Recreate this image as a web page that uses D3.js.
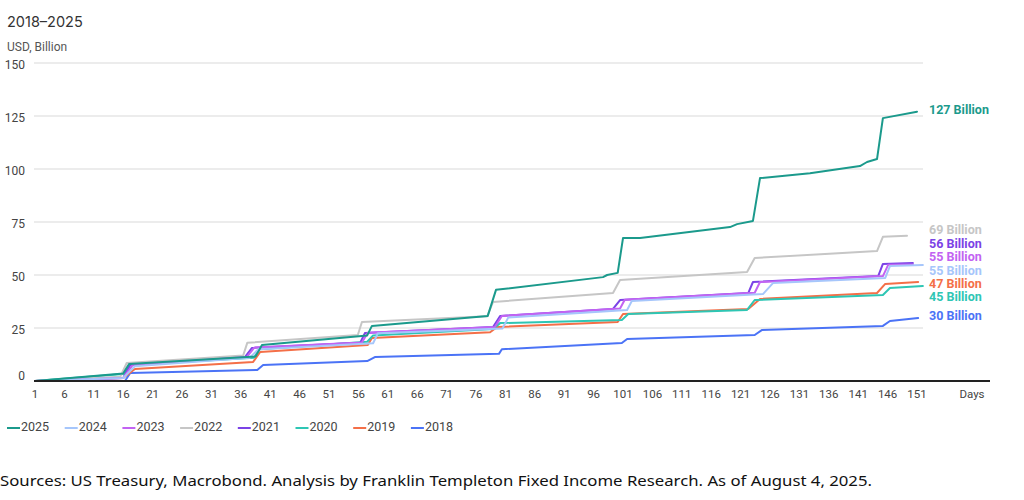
<!DOCTYPE html>
<html>
<head>
<meta charset="utf-8">
<script src="https://cdnjs.cloudflare.com/ajax/libs/d3/7.8.5/d3.min.js"></script>
<style>
  body { margin: 0; background: #fff; }
  svg { display: block; }
  .narrow { font-family: Roboto, "DejaVu Sans Condensed", sans-serif; }
</style>
</head>
<body>
<script>
'use strict';

// ---- data ----
var years = ['2025', '2024', '2023', '2022', '2021', '2020', '2019', '2018'];
var colors = ['#1b9a8c', '#a6c6fb', '#c263f2', '#c6c6c6', '#7b43e6', '#2ec6b4', '#f46f48', '#4b73f6'];
var endLabels = ['127 Billion', '55 Billion', '55 Billion', '69 Billion', '56 Billion', '45 Billion', '47 Billion', '30 Billion'];
var xTicks = [1, 6, 11, 16, 21, 26, 31, 36, 41, 46, 51, 56, 61, 66, 71, 76, 81, 86, 91, 96, 101, 106, 111, 116, 121, 126, 131, 136, 141, 146, 151];
var yTicks = [0, 25, 50, 75, 100, 125, 150];

// [day, USD bn]
var s2025 = [[1, 0], [16, 3.5], [17, 8], [38.5, 11.5], [39.6, 17], [57.5, 21.5], [58.3, 26], [78, 30.7], [79.4, 43],
  [97.6, 49], [98.3, 50], [100.1, 51], [101, 67.4], [103.9, 67.5], [119.2, 72.6], [120.4, 74], [123.1, 75.5],
  [124.3, 95.7], [132.8, 98], [141.3, 101.4], [142.5, 103.3], [144.2, 104.7], [145.2, 124], [151, 127]];
var s2024 = [[1, 0], [16, 1.4], [18, 7], [37.5, 11], [39, 15], [58.5, 17.8], [59.3, 22.5], [80.5, 24.8], [81.5, 30],
  [101.7, 33.5], [102.5, 37.7], [124.8, 41], [126.5, 46.2], [145.6, 48.6], [146.4, 54.2], [152, 54.7]];
var s2023 = [[1, 0], [16, 1.4], [17.6, 7.5], [37, 11.3], [38.3, 15.8], [56.6, 18.2], [57.6, 22.8], [79.2, 25.5], [80.4, 30.7],
  [100.5, 34.2], [101.3, 38.3], [123.4, 41.6], [124.3, 46.7], [145.2, 49.5], [146.1, 54.8], [150.3, 55]];
var s2022 = [[1, 0], [15.5, 2], [16.6, 8.5], [36.4, 12], [37.1, 18], [55.9, 21.7], [56.6, 27.8], [77.9, 30.5], [78.9, 37.3],
  [99.3, 41.5], [100.5, 47.6], [122.1, 51.4], [123.4, 58], [144.2, 61.3], [145.2, 68], [149.3, 68.5]];
var s2021 = [[1, 0], [16, 1.4], [17.2, 7.5], [36.7, 11.3], [37.9, 15.6], [56.3, 18], [57.1, 22.6], [78.9, 25.5], [80.1, 30.7],
  [99.3, 34], [100.5, 38.2], [122.3, 41.5], [123.1, 46.7], [144.4, 49.5], [145.2, 55.2], [150.3, 55.7]];
var s2020 = [[1, 0], [16, 3.3], [17, 7.5], [38.2, 11], [39.2, 15], [57.5, 18.5], [58.5, 21.5], [78.9, 24.5], [80.1, 27.3],
  [100.8, 28.8], [101.9, 31.6], [122.1, 33.5], [123.4, 38.2], [145.2, 40.6], [146.4, 43.9], [152, 44.8]];
var s2019 = [[1, 0], [16, 1.4], [18, 5.7], [38.1, 9], [39.3, 13.7], [57.6, 17], [58.3, 20.3], [78.4, 23], [79.6, 25.5],
  [100.1, 27.8], [101, 31.6], [122.3, 34], [124.3, 38.7], [144.2, 41.5], [145.6, 45.8], [151.2, 46.7]];
var s2018 = [[1, 0], [16.3, 0], [17.2, 3.8], [38.8, 5.2], [39.8, 7.5], [57.5, 9.4], [58.8, 11.3], [79.9, 12.8], [80.4, 15],
  [100.8, 17.9], [101.7, 19.8], [123.4, 21.7], [124.6, 24], [145.2, 26], [146.4, 28.3], [151.2, 29.7]];

var seriesData = [s2025, s2024, s2023, s2022, s2021, s2020, s2019, s2018];

// ---- layout ----
var width = 1024, height = 500;
var x = d3.scaleLinear().domain([1, 151]).range([35, 917]);
var y = d3.scaleLinear().domain([0, 150]).range([381, 63]);

var svg = d3.select('body').append('svg')
    .attr('width', width)
    .attr('height', height)
    ;

svg.append('text')
    .attr('x', 7).attr('y', 27)
    .attr('font-family', 'Inter, "Noto Sans", sans-serif')
    .attr('font-size', 14.5)
    .attr('fill', '#333')
    .text('2018–2025');

svg.append('text')
    .attr('class', 'narrow')
    .attr('x', 7).attr('y', 51)
    .attr('font-size', 12)
    .attr('fill', '#555')
    .text('USD, Billion');

// gridlines + y labels
svg.selectAll('line.grid')
    .data(yTicks.filter(function (d) { return d > 0; }))
    .enter().append('line')
    .attr('class', 'grid')
    .attr('x1', 34).attr('x2', 923)
    .attr('y1', y).attr('y2', y)
    .attr('stroke', '#e6e6e6')
    .attr('stroke-width', 1.5)
    ;

svg.selectAll('text.ylab')
    .data(yTicks)
    .enter().append('text')
    .attr('class', 'ylab narrow')
    .attr('x', 25)
    .attr('y', function (d) { return d === 0 ? y(d) - 4 : y(d) + 3; })
    .attr('text-anchor', 'end')
    .attr('dominant-baseline', 'middle')
    .attr('font-size', 12)
    .attr('fill', '#444')
    .text(String);

// x labels
svg.selectAll('text.xlab')
    .data(xTicks)
    .enter().append('text')
    .attr('class', 'xlab narrow')
    .attr('x', x)
    .attr('y', 395)
    .attr('text-anchor', 'middle')
    .attr('dominant-baseline', 'middle')
    .attr('font-size', 11.5)
    .attr('fill', '#444')
    .text(String);

svg.append('text')
    .attr('class', 'narrow')
    .attr('x', 972).attr('y', 395)
    .attr('text-anchor', 'middle')
    .attr('dominant-baseline', 'middle')
    .attr('font-size', 11.5)
    .attr('fill', '#444')
    .text('Days');

// lines, 2018 drawn first so 2025 sits on top
var line = d3.line()
    .x(function (d) { return x(d[0]); })
    .y(function (d) { return y(d[1]); })
    ;

var order = d3.range(years.length).reverse();

svg.selectAll('path.series')
    .data(order)
    .enter().append('path')
    .attr('class', 'series')
    .attr('d', function (i) { return line(seriesData[i]); })
    .attr('fill', 'none')
    .attr('stroke', function (i) { return colors[i]; })
    .attr('stroke-width', 2)
    .attr('stroke-linejoin', 'round')
    .attr('stroke-linecap', 'round')
    ;

// x axis baseline
svg.append('line')
    .attr('x1', 34).attr('x2', 990)
    .attr('y1', y(0)).attr('y2', y(0))
    .attr('stroke', '#222')
    .attr('stroke-width', 2)
    ;

// end labels: touching labels form a cluster, each cluster centred on its mean
var gap = 13.4;
var labels = years.map(function (yr, i) {
    var last = seriesData[i][seriesData[i].length - 1];
    return { i: i, y0: y(last[1]), y: y(last[1]) };
}).sort(function (a, b) { return a.y0 - b.y0; });

for (var iter = 0; iter < 50; iter++) {
    var clusters = [];
    labels.forEach(function (l) {
        var c = clusters[clusters.length - 1];
        if (c && l.y - c[c.length - 1].y < gap + 0.01) { c.push(l); } else { clusters.push([l]); }
    });
    clusters.forEach(function (c) {
        var mean = d3.mean(c, function (l) { return l.y0; });
        var top = mean - gap * (c.length - 1) / 2;
        c.forEach(function (l, k) { l.y = top + k * gap; });
    });
}

svg.selectAll('text.endlab')
    .data(labels)
    .enter().append('text')
    .attr('class', 'endlab narrow')
    .attr('x', 929)
    .attr('y', function (l) { return l.y - 1.5; })
    .attr('dominant-baseline', 'middle')
    .attr('font-size', 12.5)
    .attr('font-weight', 'bold')
    .attr('fill', function (l) { return colors[l.i]; })
    .text(function (l) { return endLabels[l.i]; });

// legend
var legend = svg.selectAll('g.legend')
    .data(years)
    .enter().append('g')
    .attr('class', 'legend')
    .attr('transform', function (d, i) { return 'translate(' + (7 + i * 57.7) + ',428)'; })
    ;

legend.append('line')
    .attr('x1', 0).attr('x2', 13)
    .attr('stroke', function (d, i) { return colors[i]; })
    .attr('stroke-width', 2)
    ;

legend.append('text')
    .attr('class', 'narrow')
    .attr('x', 14)
    .attr('dominant-baseline', 'middle')
    .attr('font-size', 12.5)
    .attr('fill', '#444')
    .text(String);

// source note
svg.append('text')
    .attr('x', 0).attr('y', 486)
    .attr('font-family', '"Noto Sans", "Open Sans", sans-serif')
    .attr('font-size', 14.5)
    .attr('fill', '#111')
    .attr('textLength', 872)
    .attr('lengthAdjust', 'spacingAndGlyphs')
    .text('Sources: US Treasury, Macrobond. Analysis by Franklin Templeton Fixed Income Research. As of August 4, 2025.');
</script>
</body>
</html>
